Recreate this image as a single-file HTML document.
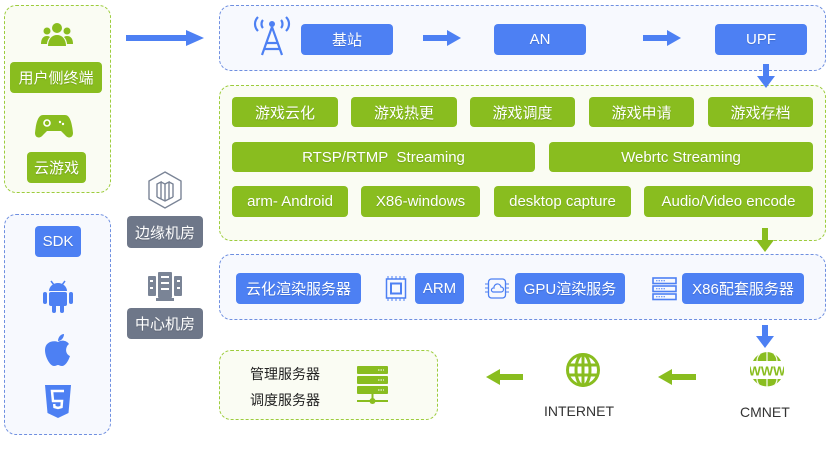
<!DOCTYPE html>
<html><head><meta charset="utf-8"><style>
*{margin:0;padding:0;box-sizing:border-box}
body{width:829px;height:451px;background:#fff;position:relative;overflow:hidden;font-family:"Liberation Sans","Noto Sans CJK SC",sans-serif}
.a{position:absolute}
.box{position:absolute;border-radius:12px;border:1.5px dashed}
.bb{border-color:#6f8fe0;background:#f7f9fe}
.gb{border-color:#9ccc3c;background:#fafcf3}
.btn{position:absolute;border-radius:4px;color:#fff;font-size:15px;display:flex;align-items:center;justify-content:center;white-space:nowrap;text-shadow:0 1px 1px rgba(0,0,0,.15)}
.b{background:#4d80f3}.g{background:#89bd1f}.k{background:#6e7789}
.t{position:absolute;font-size:14px;color:#333;white-space:nowrap}
</style></head><body>
<!-- left boxes -->
<div class="box gb" style="left:4px;top:5px;width:107px;height:188px"></div>
<div class="box bb" style="left:4px;top:214px;width:107px;height:221px"></div>
<svg class="a" style="left:40px;top:22px" width="34" height="26" viewBox="0 0 34 26"><g fill="#89bd1f"><circle cx="17" cy="6" r="5"/><circle cx="7" cy="9" r="3.5"/><circle cx="27" cy="9" r="3.5"/><path d="M8 24c0-7 4-11 9-11s9 4 9 11z"/><path d="M1 22c0-5 2-8 6-8 2 0 3 1 3 1-2 2-3 5-3 7z"/><path d="M33 22c0-5-2-8-6-8-2 0-3 1-3 1 2 2 3 5 3 7z"/></g></svg>
<div class="btn g" style="left:10px;top:62px;width:92px;height:31px">用户侧终端</div>
<svg class="a" style="left:35px;top:113px" width="38" height="26" viewBox="0 0 38 26"><path d="M8 2h22c5 0 7 8 8 18 0 5-5 6-8 2l-4-4H12l-4 4c-3 4-8 3-8-2C1 10 3 2 8 2z" fill="#89bd1f"/><circle cx="12" cy="10" r="3" fill="none" stroke="#fff" stroke-width="1.6"/><circle cx="25" cy="9" r="1.2" fill="#fff"/><circle cx="28" cy="11" r="1.2" fill="#fff"/></svg>
<div class="btn g" style="left:27px;top:152px;width:59px;height:31px">云游戏</div>
<div class="btn b" style="left:35px;top:226px;width:46px;height:31px">SDK</div>
<svg class="a" style="left:41px;top:279px" width="34" height="36" viewBox="0 0 34 36"><g fill="#4d80f3"><path d="M8 12a9 8 0 0 1 18 0z"/><rect x="8" y="13" width="18" height="14" rx="2"/><rect x="2" y="13" width="4" height="12" rx="2"/><rect x="28" y="13" width="4" height="12" rx="2"/><rect x="11" y="25" width="4" height="9" rx="2"/><rect x="19" y="25" width="4" height="9" rx="2"/></g><line x1="10" y1="2" x2="13" y2="6" stroke="#4d80f3" stroke-width="1.5"/><line x1="24" y1="2" x2="21" y2="6" stroke="#4d80f3" stroke-width="1.5"/></svg>
<svg class="a" style="left:42px;top:332px" width="32" height="36" viewBox="0 0 32 36"><g fill="#4d80f3"><path d="M16 10c3-2 8-2 11 2-4 3-4 10 1 12-2 6-5 10-8 10-2 0-3-1-4-1s-2 1-4 1c-4 0-9-9-9-16 0-8 8-10 13-8z"/><path d="M16 9c0-4 3-7 6-7 0 4-3 7-6 7z"/></g></svg>
<svg class="a" style="left:44px;top:385px" width="28" height="33" viewBox="0 0 28 33"><path d="M1 0h26l-2.5 28L14 33 3.5 28z" fill="#4d80f3"/><path d="M20 6H8l1 10h9l-.5 6L14 23l-3.5-1-.3-3" fill="none" stroke="#fff" stroke-width="2.5"/></svg>
<!-- left arrow -->
<svg class="a" style="left:126px;top:30px" width="78" height="16"><rect x="0" y="5" width="62" height="6" fill="#4d80f3"/><path d="M60 0l18 8-18 8z" fill="#4d80f3"/></svg>
<!-- machine rooms -->
<svg class="a" style="left:147px;top:171px" width="36" height="38" viewBox="0 0 36 38"><g fill="none" stroke="#7a8496" stroke-width="1.4"><path d="M18 1l16 9v18l-16 9-16-9V10z"/><path d="M10 26V13l4-2v17M14 11l4 2v17M18 13l4-2v17M22 11l4 2v13M10 26l8 4 8-4"/></g></svg>
<div class="btn k" style="left:127px;top:216px;width:76px;height:32px">边缘机房</div>
<svg class="a" style="left:147px;top:271px" width="36" height="30" viewBox="0 0 36 30"><g fill="#7a8496"><rect x="11" y="1" width="14" height="26" rx="1"/><rect x="1" y="5" width="8" height="20" rx="1"/><rect x="27" y="5" width="8" height="20" rx="1"/><rect x="9" y="27" width="18" height="3"/></g><g fill="#fff"><rect x="14" y="5" width="8" height="2"/><rect x="14" y="11" width="8" height="2"/><rect x="14" y="17" width="8" height="2"/><rect x="3" y="9" width="3" height="2"/><rect x="3" y="16" width="3" height="2"/><rect x="30" y="9" width="3" height="2"/><rect x="30" y="16" width="3" height="2"/></g></svg>
<div class="btn k" style="left:127px;top:308px;width:76px;height:31px">中心机房</div>

<!-- top blue box -->
<div class="box bb" style="left:219px;top:5px;width:607px;height:66px"></div>
<svg class="a" style="left:252px;top:15px" width="40" height="42" viewBox="0 0 40 42"><g fill="none" stroke="#4d80f3" stroke-width="2.2"><path d="M6 2c-4 4-4 10 0 14M34 2c4 4 4 10 0 14M11 5c-2 2-2 6 0 8M29 5c2 2 2 6 0 8"/><path d="M20 12L10 40M20 12l10 28M14 28h12M12 34h16"/></g><circle cx="20" cy="9" r="3" fill="#4d80f3"/></svg>
<div class="btn b" style="left:301px;top:24px;width:92px;height:31px">基站</div>
<svg class="a" style="left:423px;top:30px" width="38" height="16"><rect x="0" y="5" width="26" height="6" fill="#4d80f3"/><path d="M24 0l14 8-14 8z" fill="#4d80f3"/></svg>
<div class="btn b" style="left:494px;top:24px;width:92px;height:31px">AN</div>
<svg class="a" style="left:643px;top:30px" width="38" height="16"><rect x="0" y="5" width="26" height="6" fill="#4d80f3"/><path d="M24 0l14 8-14 8z" fill="#4d80f3"/></svg>
<div class="btn b" style="left:715px;top:24px;width:92px;height:31px">UPF</div>

<!-- green box -->
<div class="box gb" style="left:219px;top:85px;width:607px;height:156px"></div>
<svg class="a" style="left:757px;top:64px" width="18" height="25"><rect x="6" y="0" width="6" height="14" fill="#4d80f3"/><path d="M0 12h18l-9 12z" fill="#4d80f3"/></svg>
<div class="btn g" style="left:232px;top:97px;width:106px;height:30px">游戏云化</div>
<div class="btn g" style="left:351px;top:97px;width:106px;height:30px">游戏热更</div>
<div class="btn g" style="left:470px;top:97px;width:105px;height:30px">游戏调度</div>
<div class="btn g" style="left:589px;top:97px;width:105px;height:30px">游戏申请</div>
<div class="btn g" style="left:708px;top:97px;width:105px;height:30px">游戏存档</div>
<div class="btn g" style="left:232px;top:142px;width:303px;height:30px">RTSP/RTMP&nbsp; Streaming</div>
<div class="btn g" style="left:549px;top:142px;width:264px;height:30px">Webrtc Streaming</div>
<div class="btn g" style="left:232px;top:186px;width:116px;height:31px">arm- Android</div>
<div class="btn g" style="left:361px;top:186px;width:119px;height:31px">X86-windows</div>
<div class="btn g" style="left:494px;top:186px;width:137px;height:31px">desktop capture</div>
<div class="btn g" style="left:644px;top:186px;width:169px;height:31px">Audio/Video encode</div>
<svg class="a" style="left:756px;top:228px" width="18" height="25"><rect x="6" y="0" width="6" height="14" fill="#89bd1f"/><path d="M0 12h18l-9 12z" fill="#89bd1f"/></svg>

<!-- server blue box -->
<div class="box bb" style="left:219px;top:254px;width:607px;height:66px"></div>
<div class="btn b" style="left:236px;top:273px;width:125px;height:31px">云化渲染服务器</div>
<svg class="a" style="left:384px;top:276px" width="24" height="25" viewBox="0 0 24 25"><rect x="2.5" y="3" width="19" height="19" fill="none" stroke="#4d80f3" stroke-width="1.5"/><rect x="7" y="7.5" width="10" height="10" fill="none" stroke="#4d80f3" stroke-width="2"/><path d="M4 0v3M8 0v3M12 0v3M16 0v3M20 0v3M4 22v3M8 22v3M12 22v3M16 22v3M20 22v3" stroke="#4d80f3" stroke-width="1"/></svg>
<div class="btn b" style="left:415px;top:273px;width:49px;height:31px">ARM</div>
<svg class="a" style="left:485px;top:276px" width="24" height="25" viewBox="0 0 24 25"><rect x="3.5" y="3" width="17" height="19" rx="3" fill="none" stroke="#4d80f3" stroke-width="1.3"/><path d="M8 16h8a2.5 2.5 0 0 0 0-5 3.5 3.5 0 0 0-7 1 2 2 0 0 0-1 4z" fill="none" stroke="#4d80f3" stroke-width="1.2"/><path d="M0 8h3M0 12h3M0 16h3M21 8h3M21 12h3M21 16h3" stroke="#4d80f3"/></svg>
<div class="btn b" style="left:515px;top:273px;width:110px;height:31px">GPU渲染服务</div>
<svg class="a" style="left:652px;top:276px" width="25" height="25" viewBox="0 0 25 25"><g fill="none" stroke="#4d80f3" stroke-width="1.6"><rect x="1" y="2" width="23" height="5.5"/><rect x="1" y="10" width="23" height="5.5"/><rect x="1" y="18" width="23" height="5.5"/></g><path d="M4 4.7h9M4 12.7h9M4 20.7h9" stroke="#4d80f3" stroke-dasharray="1.5 1"/></svg>
<div class="btn b" style="left:682px;top:273px;width:122px;height:31px">X86配套服务器</div>
<svg class="a" style="left:756px;top:325px" width="18" height="24"><rect x="6" y="0" width="6" height="13" fill="#4d80f3"/><path d="M0 11h18l-9 12z" fill="#4d80f3"/></svg>

<!-- bottom -->
<div class="box gb" style="left:219px;top:350px;width:219px;height:70px"></div>
<div class="t" style="left:250px;top:364px;font-size:14px;color:#222">管理服务器</div>
<div class="t" style="left:250px;top:390px;font-size:14px;color:#222">调度服务器</div>
<svg class="a" style="left:356px;top:366px" width="33" height="40" viewBox="0 0 33 40"><g fill="#89bd1f"><rect x="1" y="0" width="31" height="8" rx="1"/><rect x="1" y="10" width="31" height="8" rx="1"/><rect x="1" y="20" width="31" height="8" rx="1"/><rect x="15.5" y="28" width="2" height="6"/><rect x="1" y="34" width="31" height="2"/><circle cx="16.5" cy="35" r="3"/></g><path d="M22 4h6M22 14h6M22 24h6" stroke="#fff" stroke-dasharray="1.5 1"/></svg>
<svg class="a" style="left:486px;top:369px" width="37" height="16"><path d="M0 8l14-8v16z" fill="#89bd1f"/><rect x="12" y="5" width="25" height="6" fill="#89bd1f"/></svg>
<svg class="a" style="left:565px;top:352px" width="36" height="36" viewBox="0 0 36 36"><g fill="none" stroke="#89bd1f" stroke-width="3"><circle cx="18" cy="18" r="15.5"/><ellipse cx="18" cy="18" rx="7" ry="15.5"/><path d="M18 2v32M3 13h30M3 23h30"/></g></svg>
<div class="t" style="left:544px;top:403px;font-size:14px;color:#333">INTERNET</div>
<svg class="a" style="left:658px;top:369px" width="38" height="16"><path d="M0 8l14-8v16z" fill="#89bd1f"/><rect x="12" y="5" width="26" height="6" fill="#89bd1f"/></svg>
<svg class="a" style="left:750px;top:351px" width="34" height="38" viewBox="0 0 34 38"><path d="M17 1A17 17 0 0 0 3 10h28A17 17 0 0 0 17 1zM3 28a17 17 0 0 0 28 0z" fill="#89bd1f"/><ellipse cx="17" cy="19" rx="16" ry="18" fill="none" stroke="#89bd1f" stroke-width="0"/><text x="17" y="24.5" font-size="13" font-weight="bold" fill="#89bd1f" text-anchor="middle" font-family="Liberation Sans">WWW</text><path d="M17 1v9M17 28v9M10 3c-2 2-3 5-3 7M24 3c2 2 3 5 3 7M7 28c0 3 1 5 3 7M27 28c0 3-1 5-3 7" stroke="#fafcf3" stroke-width="1.2" fill="none"/></svg>
<div class="t" style="left:740px;top:404px;font-size:14px;color:#333">CMNET</div>
</body></html>
